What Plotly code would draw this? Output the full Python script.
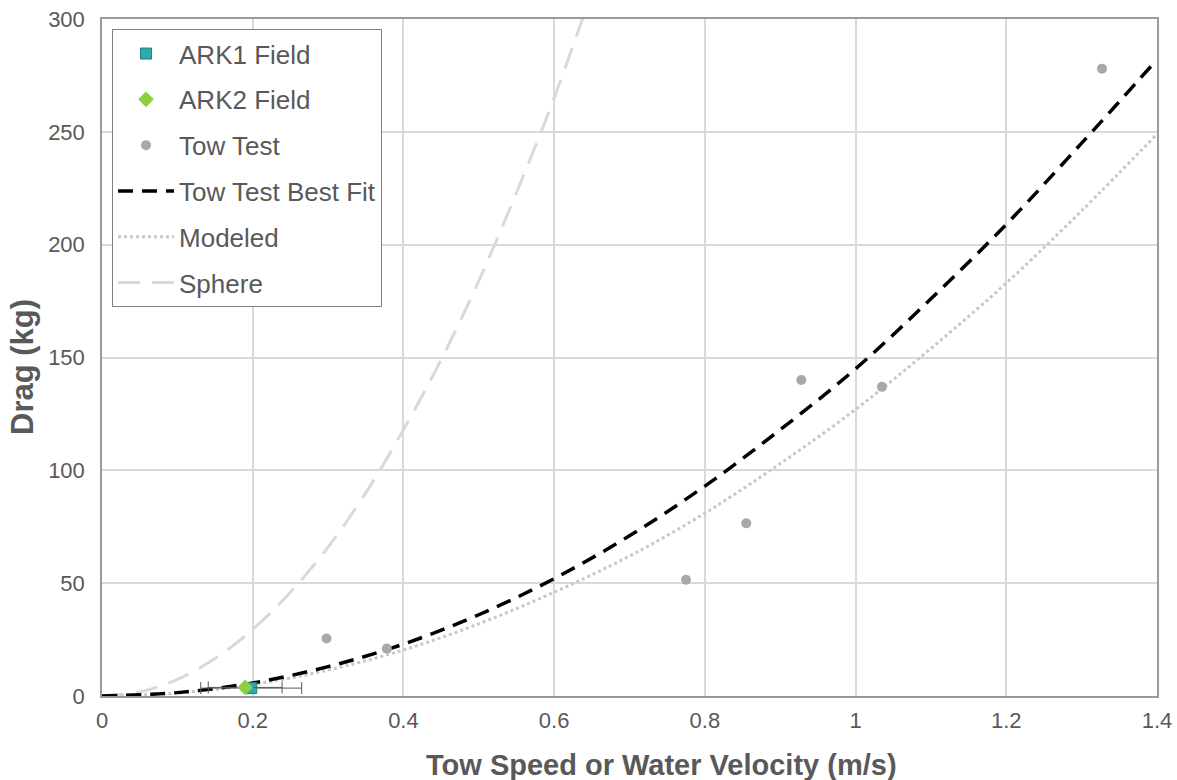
import plotly.graph_objects as go

# ---- data ----
ark1_x = [0.198]
ark1_y = [3.5]
ark1_xerr = [0.067]

ark2_x = [0.19]
ark2_y = [3.8]
ark2_xerr = [0.049]

tow_x = [0.298, 0.378, 0.775, 0.855, 0.928, 1.035, 1.327]
tow_y = [25.5, 21.0, 51.5, 76.5, 140.0, 137.0, 278.0]

fit_x = [0.0, 0.1, 0.2, 0.3, 0.4, 0.5, 0.6, 0.7, 0.8, 0.9, 1.0, 1.1, 1.2, 1.3, 1.4]
fit_y = [0.0, 1.5, 5.8, 13.0, 23.0, 36.0, 52.0, 71.0, 93.0, 118.0, 145.0, 176.0, 209.0, 245.0, 282.0]

model_x = [0.0, 0.1, 0.2, 0.3, 0.4, 0.5, 0.6, 0.7, 0.8, 0.9, 1.0, 1.1, 1.2, 1.3, 1.4]
model_y = [0.0, 1.3, 5.1, 11.5, 20.4, 32.0, 46.0, 62.0, 81.0, 103.0, 127.0, 154.0, 183.0, 215.0, 249.0]

sphere_x = [0.0, 0.05, 0.1, 0.15, 0.2, 0.25, 0.3, 0.35, 0.4, 0.45, 0.5, 0.55, 0.6, 0.65]
sphere_y = [0.0, 1.8, 7.4, 16.6, 29.5, 46.0, 66.0, 90.0, 118.0, 149.0, 184.0, 223.0, 265.0, 312.0]

x_ticks = [0, 0.2, 0.4, 0.6, 0.8, 1.0, 1.2, 1.4]
x_tick_labels = ["0", "0.2", "0.4", "0.6", "0.8", "1", "1.2", "1.4"]
y_ticks = [0, 50, 100, 150, 200, 250, 300]

x_title = "Tow Speed or Water Velocity (m/s)"
y_title = "Drag (kg)"

TXT = "#595959"
FONT = "Liberation Sans, Arial, sans-serif"

fig = go.Figure()

fig.add_trace(go.Scatter(
    x=sphere_x, y=sphere_y, mode="lines", name="Sphere", legendgroup="g6",
    line=dict(color="#d9d9d9", width=3, dash="22px,12px"), line_shape="spline",
    legendrank=6))
fig.add_trace(go.Scatter(
    x=model_x, y=model_y, mode="lines", name="Modeled", legendgroup="g5",
    line=dict(color="#c8c8c8", width=3, dash="dot"), line_shape="spline", legendrank=5))
fig.add_trace(go.Scatter(
    x=fit_x, y=fit_y, mode="lines", name="Tow Test Best Fit", legendgroup="g4",
    line=dict(color="#000000", width=3.5, dash="15px,9px"), line_shape="spline", legendrank=4))
fig.add_trace(go.Scatter(
    x=tow_x, y=tow_y, mode="markers", name="Tow Test", legendgroup="g3",
    marker=dict(color="#a9a7a7", size=10, symbol="circle"), legendrank=3))
fig.add_trace(go.Scatter(
    x=ark1_x, y=ark1_y, mode="markers", name="ARK1 Field", legendgroup="g1",
    error_x=dict(type="data", array=ark1_xerr, color="#595959", thickness=1, width=6),
    marker=dict(color="#2eaaa8", size=11, symbol="square",
                line=dict(color="#1f7f86", width=1)), legendrank=1))
fig.add_trace(go.Scatter(
    x=ark2_x, y=ark2_y, mode="markers", name="ARK2 Field", legendgroup="g2",
    error_x=dict(type="data", array=ark2_xerr, color="#595959", thickness=1, width=6),
    marker=dict(color="#8cd040", size=12, symbol="diamond"), legendrank=2))

fig.update_layout(
    width=1177, height=780,
    margin=dict(l=102, r=20, t=19, b=84, autoexpand=False),
    paper_bgcolor="white", plot_bgcolor="white",
    font=dict(family=FONT, color=TXT, size=22),
    showlegend=True,
    legend=dict(
        x=0.0095, y=0.985, xanchor="left", yanchor="top",
        bgcolor="white", bordercolor="#7f7f7f", borderwidth=1,
        font=dict(family=FONT, size=26, color=TXT),
        tracegroupgap=9, itemwidth=56, traceorder="grouped",
    ),
    xaxis=dict(
        range=[0, 1.4], tickvals=x_ticks, ticktext=x_tick_labels,
        showgrid=True, gridcolor="#d9d9d9", gridwidth=1.5,
        showline=True, linecolor="#9a9a9a", linewidth=1.5, mirror=True,
        zeroline=False, ticks="", ticklen=0, ticklabelstandoff=4,
        automargin=False,
        tickfont=dict(family=FONT, size=22, color=TXT),
    ),
    yaxis=dict(
        range=[0, 300], tickvals=y_ticks,
        showgrid=True, gridcolor="#d9d9d9", gridwidth=1.5,
        showline=True, linecolor="#9a9a9a", linewidth=1.5, mirror=True,
        zeroline=False, ticks="", ticklen=0, ticklabelstandoff=11,
        automargin=False,
        tickfont=dict(family=FONT, size=22, color=TXT),
    ),
    annotations=[
        dict(text="<b>" + x_title + "</b>", xref="paper", yref="paper",
             x=0.530, y=-0.1019, xanchor="center", yanchor="middle",
             showarrow=False, font=dict(family=FONT, size=29, color=TXT)),
        dict(text="<b>" + y_title + "</b>", xref="paper", yref="paper",
             x=-0.0749, y=0.486, xanchor="center", yanchor="middle", textangle=-90,
             showarrow=False, font=dict(family=FONT, size=31, color=TXT)),
    ],
)

fig.write_html("out.html",
               config={"displayModeBar": False},
               post_script="document.body.style.margin='0';document.body.style.overflow='hidden';")
